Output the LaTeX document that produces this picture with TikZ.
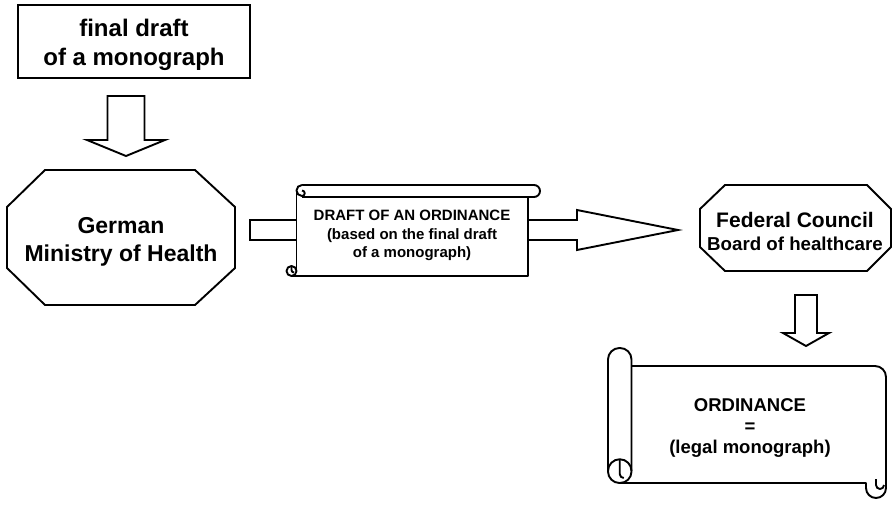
\documentclass[tikz,border=0pt]{standalone}
\usepackage{fontspec}
\setmainfont{Liberation Sans}
\usetikzlibrary{calc}
\begin{document}
\begin{tikzpicture}[x=1pt,y=-1pt,
  shp/.style={draw=black, line width=1.9pt, fill=white, line join=miter},
  ln/.style={draw=black, line width=1.9pt, line join=round},
  txtmoh/.style={align=center, inner sep=0pt, font=\bfseries\fontsize{23}{28}\selectfont},
  txtsc/.style={align=center, inner sep=0pt, font=\bfseries\fontsize{15}{18.5}\selectfont},
  txtfc/.style={align=center, inner sep=0pt, font=\bfseries\fontsize{18.7}{23}\selectfont},
  txtord/.style={align=center, inner sep=0pt, font=\bfseries\fontsize{18.5}{21}\selectfont}]
\useasboundingbox (0,0) rectangle (893,506);

% final draft box
\draw[shp] (18,5) rectangle (250,78);
\node[align=center, inner sep=0pt, font=\bfseries\fontsize{24}{29}\selectfont] (draft) at (134,44.5) {final draft\\of a monograph};

% Ministry octagon
\draw[shp] (45,170) -- (195,170) -- (235,207) -- (235,268) -- (195,305) -- (45,305) -- (7,268) -- (7,207) -- cycle;
\node[txtmoh] (moh) at (121,242) {German\\Ministry of Health};

% arrow draft -> ministry
\coordinate (a1top) at (126,96);
\coordinate (a1tip) at (126,156);
\draw[shp] ($(a1top)+(-18.5,0)$) -- ($(a1top)+(18.5,0)$) -- ($(a1tip)+(18.5,-16)$) -- ($(a1tip)+(39,-16)$)
  -- (a1tip) -- ($(a1tip)+(-39,-16)$) -- ($(a1tip)+(-18.5,-16)$) -- cycle;

% horizontal arrow ministry -> federal council
\coordinate (a2start) at (250,230);
\coordinate (a2tip) at (678,230);
\draw[shp] ($(a2start)+(0,-10)$) -- ($(a2tip)+(-101,-10)$) -- ($(a2tip)+(-101,-20)$) -- (a2tip)
  -- ($(a2tip)+(-101,20)$) -- ($(a2tip)+(-101,10)$) -- ($(a2start)+(0,10)$) -- cycle;

% scroll 1 (draft of an ordinance)
\fill[white] (296,190) rectangle (528,276);
\draw[ln] (296.5,190.5) -- (296.5,271);
\draw[ln] (291.5,276) -- (528,276) -- (528,197);
\draw[shp] (302,185) -- (534,185) arc[start angle=-90, end angle=90, radius=6] -- (302,197);
\draw[ln, fill=white] (302,185) arc[start angle=-90, end angle=-270, radius=5.5]
  arc[start angle=90, end angle=-90, radius=2.75];
\draw[ln, fill=white] (291.5,271) circle[radius=5];
\draw[ln] (291.5,266) -- (291.5,270) arc[start angle=180, end angle=90, radius=2.5];
\node[txtsc] (ord1) at (412,235.5) {DRAFT OF AN ORDINANCE\\(based on the final draft\\of a monograph)};

% Federal council octagon
\draw[shp] (725,185) -- (867,185) -- (891,209) -- (891,247) -- (867,271) -- (725,271) -- (700,247) -- (700,209) -- cycle;
\node[txtfc] (fc) at (795,231)
  {{\fontsize{21}{23}\selectfont Federal Council}\\Board of healthcare};

% arrow federal council -> ordinance
\coordinate (a3top) at (806,295);
\coordinate (a3tip) at (806,346);
\draw[shp] ($(a3top)+(-11,0)$) -- ($(a3top)+(11,0)$) -- ($(a3tip)+(11,-13)$) -- ($(a3tip)+(23,-13)$)
  -- (a3tip) -- ($(a3tip)+(-23,-13)$) -- ($(a3tip)+(-11,-13)$) -- cycle;

% scroll 2 (ordinance)
\draw[shp, line join=round] (631,366) -- (875,366) arc[start angle=-90, end angle=0, radius=11] -- (886,488)
  arc[start angle=0, end angle=180, radius=10] -- (866,483) -- (620,483) -- (620,366) -- cycle;
\draw[ln] (876,479) -- (876,485) arc[start angle=180, end angle=0, radius=4];
\draw[shp, rounded corners=11.5pt] (608,483) -- (608,348) -- (631.5,348) -- (631.5,483) -- cycle;
\draw[ln] (608,471) arc[start angle=180, end angle=360, radius=11.75];
\draw[ln] (619.75,459.5) -- (619.75,474) arc[start angle=180, end angle=90, radius=4];
\node[txtord] (ord2) at (750,428) {ORDINANCE\\=\\(legal monograph)};
\end{tikzpicture}
\end{document}
